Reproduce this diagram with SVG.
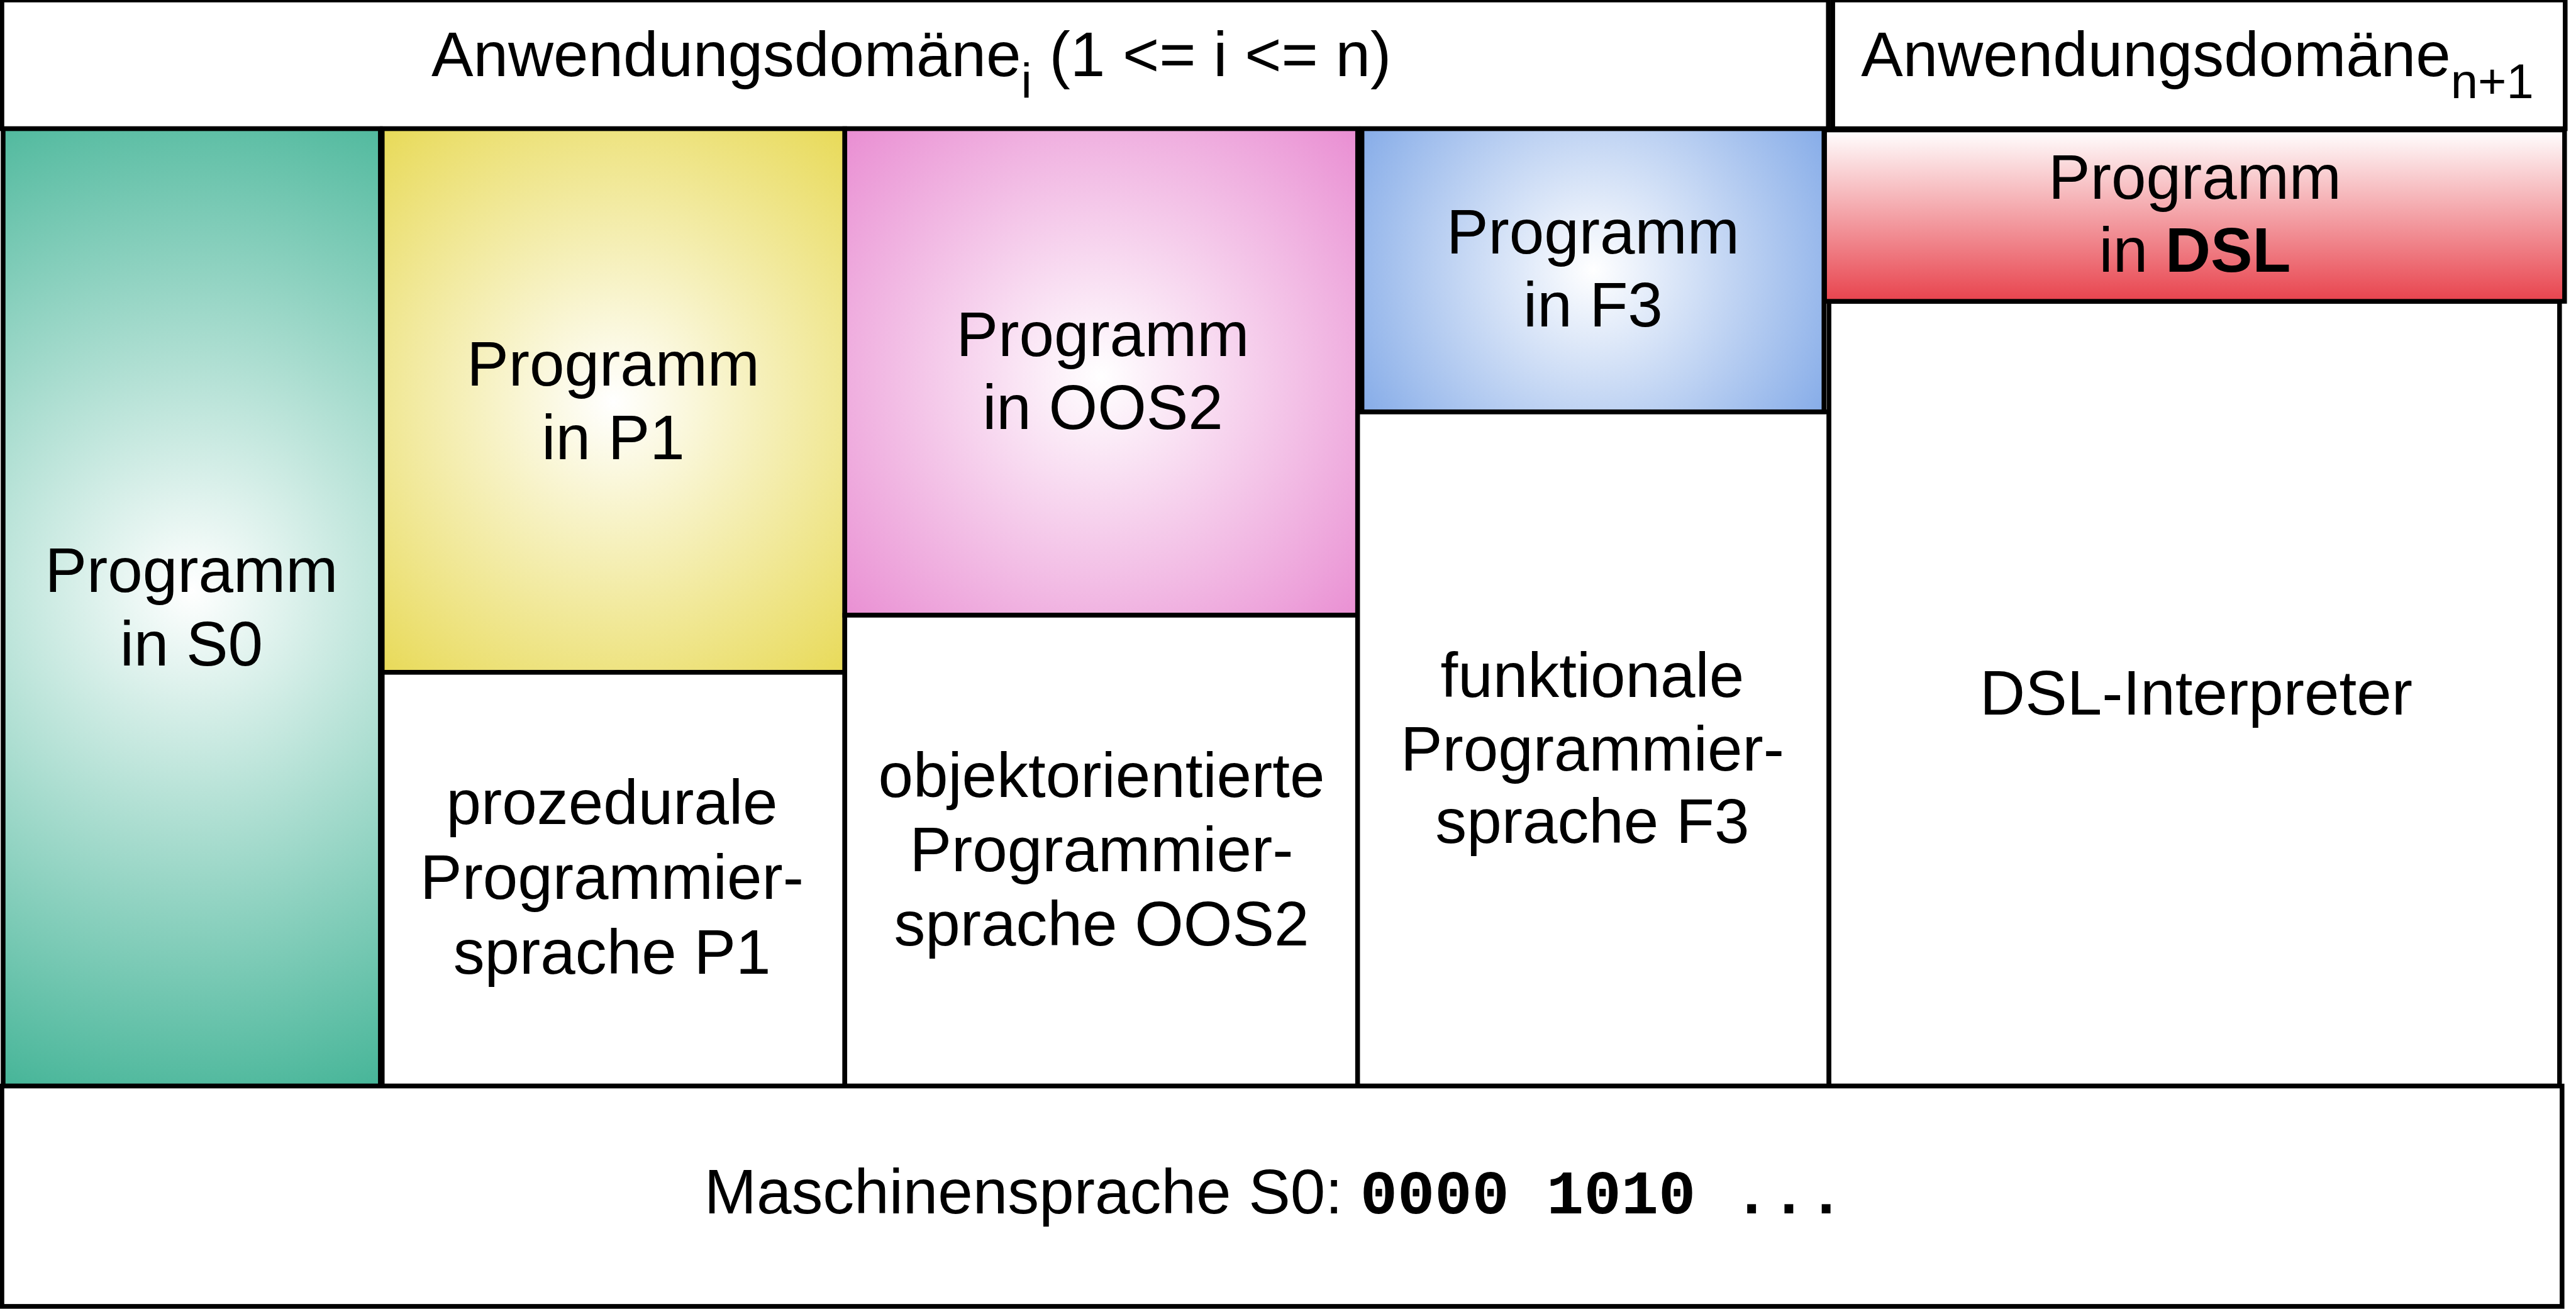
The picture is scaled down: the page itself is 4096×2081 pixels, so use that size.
<svg xmlns="http://www.w3.org/2000/svg" width="4096" height="2081" viewBox="0 0 4096 2081">
<style>
.box{stroke:#000;stroke-width:7.5;}
.w{fill:#fff;}
.t{font-family:"Liberation Sans",Arial,sans-serif;font-size:100px;fill:#000;text-anchor:middle;}
.sub{font-size:78px;}
.b{font-weight:bold;}
.mono{font-family:"Liberation Mono","Courier New",monospace;font-weight:bold;font-size:99px;}
</style>
<defs>
<radialGradient id="gTeal" gradientUnits="userSpaceOnUse" cx="305" cy="940" r="846">
<stop offset="0" stop-color="#ffffff"/><stop offset="1" stop-color="#46b598"/>
</radialGradient>
<radialGradient id="gYellow" gradientUnits="userSpaceOnUse" cx="977" cy="640" r="568">
<stop offset="0" stop-color="#ffffff"/><stop offset="1" stop-color="#e8da58"/>
</radialGradient>
<radialGradient id="gPink" gradientUnits="userSpaceOnUse" cx="1755" cy="600" r="570">
<stop offset="0" stop-color="#ffffff"/><stop offset="1" stop-color="#e98dd2"/>
</radialGradient>
<radialGradient id="gBlue" gradientUnits="userSpaceOnUse" cx="2538" cy="430" r="431">
<stop offset="0" stop-color="#ffffff"/><stop offset="1" stop-color="#86ace8"/>
</radialGradient>
<linearGradient id="gRed" x1="0" y1="0" x2="0" y2="1">
<stop offset="0" stop-color="#ffffff"/><stop offset="1" stop-color="#e8434d"/>
</linearGradient>
</defs>
<rect width="4096" height="2081" fill="#fff"/>
<g transform="scale(0.998)">
<g id="header-domain-i">
<rect class="box w" x="3" y="0" width="2910" height="205"/>
<text class="t" x="1452" y="121">Anwendungsdomäne<tspan class="sub" dy="35">i</tspan><tspan dy="-35"> (1 &lt;= i &lt;= n)</tspan></text>
</g>
<g id="header-domain-n1">
<rect class="box w" x="2920" y="0" width="1167" height="205"/>
<text class="t" x="3501" y="121">Anwendungsdomäne<tspan class="sub" dy="35">n+1</tspan></text>
</g>
<g id="prog-s0">
<rect class="box" fill="url(#gTeal)" x="5" y="205" width="601" height="1525"/>
<text class="t" x="305" y="943">Programm</text>
<text class="t" x="305" y="1060">in S0</text>
</g>
<g id="prog-p1">
<rect class="box" fill="url(#gYellow)" x="609" y="205" width="737" height="866"/>
<text class="t" x="977" y="614">Programm</text>
<text class="t" x="977" y="731">in P1</text>
</g>
<g id="lang-p1">
<rect class="box w" x="609" y="1071" width="737" height="659"/>
<text class="t" x="975" y="1313">prozedurale</text>
<text class="t" x="975" y="1432">Programmier-</text>
<text class="t" x="975" y="1551">sprache P1</text>
</g>
<g id="prog-oos2">
<rect class="box" fill="url(#gPink)" x="1346" y="205" width="817" height="775"/>
<text class="t" x="1757" y="567">Programm</text>
<text class="t" x="1757" y="683">in OOS2</text>
</g>
<g id="lang-oos2">
<rect class="box w" x="1346" y="980" width="817" height="750"/>
<text class="t" x="1755" y="1270">objektorientierte</text>
<text class="t" x="1755" y="1388">Programmier-</text>
<text class="t" x="1755" y="1506">sprache OOS2</text>
</g>
<g id="lang-f3">
<rect class="box w" x="2163" y="656" width="751" height="1074"/>
<text class="t" x="2537" y="1110">funktionale</text>
<text class="t" x="2537" y="1227">Programmier-</text>
<text class="t" x="2537" y="1343">sprache F3</text>
</g>
<g id="prog-f3">
<rect class="box" fill="url(#gBlue)" x="2170" y="205" width="736" height="451"/>
<text class="t" x="2538" y="404">Programm</text>
<text class="t" x="2538" y="520">in F3</text>
</g>
<g id="dsl-interpreter">
<rect class="box w" x="2914" y="480" width="1164" height="1250"/>
<text class="t" x="3499" y="1138">DSL-Interpreter</text>
</g>
<g id="prog-dsl">
<rect class="box" fill="url(#gRed)" x="2907" y="207" width="1179" height="273"/>
<text class="t" x="3497" y="317">Programm</text>
<text class="t" x="3497" y="433">in <tspan class="b">DSL</tspan></text>
</g>
<g id="machine-language">
<rect class="box w" x="3" y="1730" width="4079" height="351"/>
<text class="t" x="1122" y="1933" style="text-anchor:start">Maschinensprache S0: <tspan class="mono">0000 1010 ...</tspan></text>
</g>
<g id="connectors"/>
</g>
</svg>
